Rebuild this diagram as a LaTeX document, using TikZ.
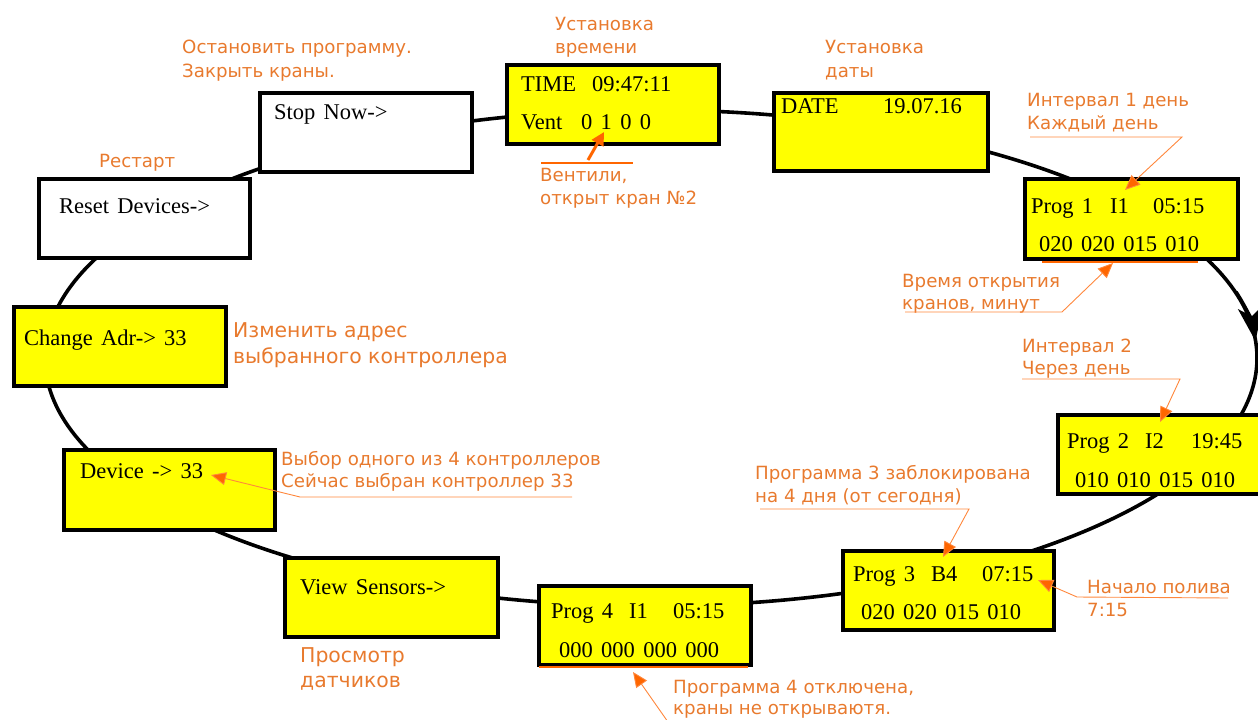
\documentclass[tikz,border=0pt]{standalone}
\usepackage{fontspec}
\setmainfont{Liberation Serif}
\newfontfamily\rufont{DejaVu Sans}
\usetikzlibrary{arrows.meta}
\definecolor{boxyellow}{RGB}{255,255,0}
\definecolor{notetext}{RGB}{232,122,46}
\definecolor{noteline}{RGB}{255,102,0}
\definecolor{leadline}{RGB}{255,135,60}
\newcommand\lcdfont{\fontsize{22.5}{26}\selectfont\spaceskip 8.3pt\relax}
\begin{document}
\begin{tikzpicture}[x=1pt,y=-1pt,
  ybox/.style={draw=black,line width=3.5pt,fill=boxyellow,anchor=north west,inner sep=0pt},
  wbox/.style={draw=black,line width=3.5pt,fill=white,anchor=north west,inner sep=0pt},
  lcd/.style={anchor=base west,inner sep=0pt,font=\lcdfont},
  note/.style={anchor=base west,inner sep=0pt,text=notetext,font=\rufont\fontsize{18.2}{24}\selectfont},
  bignote/.style={anchor=base west,inner sep=0pt,text=notetext,font=\rufont\fontsize{20.4}{26}\selectfont},
  lead/.style={draw=leadline,line width=0.9pt,-{Triangle[length=15pt,width=13pt,fill=noteline]}},
  thickline/.style={draw=noteline,line width=2.6pt},
  thickarrow/.style={draw=noteline,line width=3pt,-{Triangle[length=13pt,width=13pt]}},
  ring/.style={draw=black,line width=3.6pt}
]
\useasboundingbox (0,0) rectangle (1258,720);

% the cycle (ellipse behind the boxes)
\draw[ring] (651,358) ellipse [x radius=606pt, y radius=248pt];
\draw[ring,-{Stealth[length=34pt,width=25pt,inset=9pt]}] (1236,292) arc[start angle=15,end angle=3.5,x radius=606pt,y radius=248pt];

% boxes
\node[wbox,minimum width=212pt,minimum height=79pt] (stop) at (258,91) {};
\node[wbox,minimum width=211pt,minimum height=79pt] (reset) at (37,177) {};
\node[ybox,minimum width=212pt,minimum height=79pt] (time) at (505,63) {};
\node[ybox,minimum width=214pt,minimum height=78pt] (date) at (772,91) {};
\node[ybox,minimum width=213pt,minimum height=80pt] (prog1) at (1023,177) {};
\node[ybox,minimum width=213pt,minimum height=79pt] (prog2) at (1056,413) {};
\node[ybox,minimum width=211pt,minimum height=79pt] (prog3) at (841,549) {};
\node[ybox,minimum width=212pt,minimum height=79pt] (prog4) at (537,584) {};
\node[ybox,minimum width=213pt,minimum height=79pt] (view) at (283,556) {};
\node[ybox,minimum width=211pt,minimum height=80pt] (device) at (62,448) {};
\node[ybox,minimum width=212pt,minimum height=79pt] (change) at (12,305) {};

% box texts
\node[lcd] (stopT) at (274,119) {Stop Now->};
\node[lcd] (resetT) at (59,213) {Reset Devices->};
\node[lcd] (timeT1) at (521,91) {\makebox[71pt][l]{TIME}09:47:11};
\node[lcd] (timeT2) at (521,129) {\makebox[60pt][l]{Vent}0 1 0 0};
\node[lcd] (dateT) at (781,113) {\makebox[102pt][l]{DATE}19.07.16};
\node[lcd] (prog1T1) at (1031,213) {\makebox[79pt][l]{Prog 1}\makebox[43pt][l]{I1}05:15};
\node[lcd] (prog1T2) at (1039,251) {020 020 015 010};
\node[lcd] (prog2T1) at (1067,448) {\makebox[78pt][l]{Prog 2}\makebox[46pt][l]{I2}19:45};
\node[lcd] (prog2T2) at (1075,487) {010 010 015 010};
\node[lcd] (prog3T1) at (853,581) {\makebox[78pt][l]{Prog 3}\makebox[51pt][l]{B4}07:15};
\node[lcd] (prog3T2) at (861,619) {020 020 015 010};
\node[lcd] (prog4T1) at (551,618) {\makebox[78pt][l]{Prog 4}\makebox[44pt][l]{I1}05:15};
\node[lcd] (prog4T2) at (559,657) {000 000 000 000};
\node[lcd] (viewT) at (300,594) {View Sensors->};
\node[lcd] (changeT) at (24,345) {Change Adr-> 33};
\node[lcd] (deviceT) at (80,478) {Device -> 33};

% notes (anchor = baseline of the last line)
\node[note,align=left] (nStop) at (182,77) {Остановить программу.\\Закрыть краны.};
\node[note] (nReset) at (99,167) {Рестарт};
\node[note,align=left,font=\rufont\fontsize{18.2}{23}\selectfont] (nTime) at (555,53) {Установка\\времени};
\node[note,align=left] (nDate) at (825,77) {Установка\\даты};
\node[note,align=left,font=\rufont\fontsize{18.2}{23}\selectfont] (nVent) at (540,204) {Вентили,\\открыт кран №2};
\node[note,align=left,font=\rufont\fontsize{18.2}{23}\selectfont] (nInt1) at (1027,129) {Интервал 1 день\\Каждый день};
\node[note,align=left,font=\rufont\fontsize{18.2}{22.5}\selectfont] (nOpen) at (902,309.5) {Время открытия\\кранов, минут};
\node[note,align=left,font=\rufont\fontsize{18.2}{22}\selectfont] (nInt2) at (1022,374) {Интервал 2\\Через день};
\node[note,align=left,font=\rufont\fontsize{18.2}{23}\selectfont] (nBlock) at (755,502) {Программа 3 заблокирована\\на 4 дня (от сегодня)};
\node[note,align=left,font=\rufont\fontsize{18.2}{23}\selectfont] (nStart) at (1087,616) {Начало полива\\7:15};
\node[note,align=left,font=\rufont\fontsize{18.2}{21}\selectfont] (nOff) at (673,714) {Программа 4 отключена,\\краны не открываютя.};
\node[bignote,align=left] (nChange) at (233,363) {Изменить адрес\\выбранного контроллера};
\node[note,align=left,font=\rufont\fontsize{18.2}{22}\selectfont] (nDevice) at (281,487) {Выбор одного из 4 контроллеров\\Сейчас выбран контроллер 33};
\node[bignote,align=left,font=\rufont\fontsize{20.4}{25}\selectfont] (nView) at (300,687) {Просмотр\\датчиков};

% leader end points
\coordinate (ventA) at (541,163); \coordinate (ventB) at (633,163);
\coordinate (ventS) at (588,160); \coordinate (ventE) at (604,132);
\coordinate (i1A) at (1030,137); \coordinate (i1B) at (1182,137); \coordinate (i1E) at (1125,190);
\coordinate (opA) at (905,312); \coordinate (opB) at (1062,312); \coordinate (opE) at (1113,263);
\coordinate (opU1) at (1042,262); \coordinate (opU2) at (1198,262);
\coordinate (i2A) at (1022,379); \coordinate (i2B) at (1180,379); \coordinate (i2E) at (1160,422);
\coordinate (blA) at (760,509); \coordinate (blB) at (969,509); \coordinate (blE) at (943,557);
\coordinate (stA) at (1228,598); \coordinate (stB) at (1077,597); \coordinate (stE) at (1038,580);
\coordinate (ofU1) at (539,667); \coordinate (ofU2) at (748,667);
\coordinate (ofS) at (668,722); \coordinate (ofE) at (633,672);
\coordinate (dvA) at (572,497); \coordinate (dvB) at (300,497); \coordinate (dvE) at (211,475);

% leaders
\draw[thickline] (ventA) -- (ventB);
\draw[thickarrow] (ventS) -- (ventE);
\draw[lead] (i1A) -- (i1B) -- (i1E);
\draw[lead] (opA) -- (opB) -- (opE);
\draw[thickline] (opU1) -- (opU2);
\draw[lead] (i2A) -- (i2B) -- (i2E);
\draw[lead] (blA) -- (blB) -- (blE);
\draw[lead] (stA) -- (stB) -- (stE);
\draw[thickline] (ofU1) -- (ofU2);
\draw[lead] (ofS) -- (ofE);
\draw[lead] (dvA) -- (dvB) -- (dvE);
\end{tikzpicture}
\end{document}
